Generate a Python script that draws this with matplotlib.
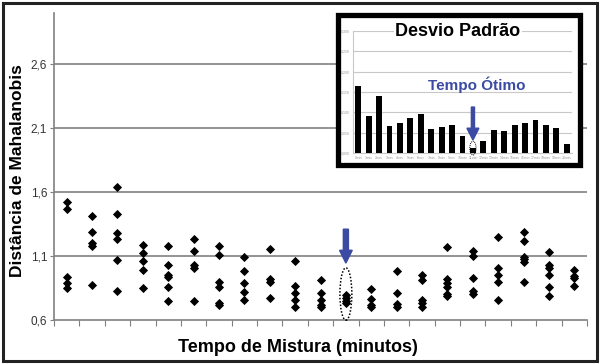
import numpy as np
import matplotlib
matplotlib.use('Agg')
import matplotlib.pyplot as plt
from matplotlib.patches import Ellipse, Rectangle, FancyArrow

plt.rcParams['font.family'] = ['Liberation Sans', 'DejaVu Sans']

# distancia de Mahalanobis de cada replica, por tempo de mistura
tempos = [f'{i}min' for i in range(21)]
distancias = [
    [1.52, 1.47, 0.94, 0.89, 0.85],
    [1.41, 1.29, 1.20, 1.18, 0.87],
    [1.64, 1.43, 1.28, 1.235, 1.07, 0.83],
    [1.19, 1.12, 1.06, 0.99, 0.85],
    [1.18, 1.03, 0.955, 0.94, 0.855, 0.75],
    [1.23, 1.14, 1.03, 1.01, 0.745],
    [1.175, 1.11, 0.90, 0.86, 0.73, 0.72],
    [1.09, 0.985, 0.89, 0.82, 0.755],
    [1.155, 0.92, 0.90, 0.775],
    [1.06, 0.865, 0.81, 0.755, 0.70],
    [0.91, 0.81, 0.76, 0.72, 0.70],
    [0.795, 0.775, 0.75, 0.73],
    [0.845, 0.765, 0.72, 0.70],
    [0.98, 0.81, 0.725, 0.70],
    [0.95, 0.915, 0.76, 0.735, 0.705],
    [1.17, 0.92, 0.89, 0.86, 0.805, 0.79],
    [1.14, 1.10, 0.93, 0.83, 0.805],
    [1.245, 1.01, 0.95, 0.895, 0.755],
    [1.29, 1.22, 1.095, 1.08, 1.05, 0.895],
    [1.13, 1.03, 1.01, 0.95, 0.86, 0.79],
    [0.99, 0.945, 0.925, 0.865],
]
yticks = [0.6, 1.1, 1.6, 2.1, 2.6]
ytick_labels = ['0,6', '1,1', '1,6', '2,1', '2,6']

# desvio padrao (grafico pequeno)
desvio = [0.164, 0.090, 0.139, 0.066, 0.074, 0.085, 0.095, 0.060, 0.063, 0.070,
          0.042, 0.012, 0.029, 0.057, 0.054, 0.068, 0.073, 0.081, 0.070, 0.062, 0.023]
inset_yticks = [0.0, 0.05, 0.10, 0.15, 0.20, 0.25, 0.30]
inset_ylabels = ['0,000', '0,050', '0,100', '0,150', '0,200', '0,250', '0,300']
otimo = 11

azul = '#3b4aa3'
cinza = '#808080'

fig = plt.figure(figsize=(6, 3.64), dpi=100)
W, H = 600, 364

ax = fig.add_axes([54/W, 1 - 320/H, (587-54)/W, (320-13)/H])
for i, vals in enumerate(distancias):
    ax.plot([i]*len(vals), vals, 'kD', ms=3.8, mew=0.6, zorder=3)

ax.set_xlim(-0.5, 20.5)
ax.set_ylim(0.6, 3.0)
ax.set_yticks(yticks)
ax.set_yticklabels(ytick_labels, fontsize=8.5, color='#333333')
ax.set_xticks(np.arange(-0.5, 21, 1))
ax.set_xticklabels([])
ax.tick_params(axis='x', length=4, color=cinza, direction='out')
ax.tick_params(axis='y', length=3, color=cinza, pad=2)
for s in ['top', 'right']:
    ax.spines[s].set_visible(False)
for s in ['left', 'bottom']:
    ax.spines[s].set_color(cinza)
    ax.spines[s].set_linewidth(1.2)
for y in yticks[1:]:
    ax.axhline(y, color=cinza, lw=1.2, zorder=1)

ax.add_patch(FancyArrow(otimo, 1.31, 0, -0.265, width=0.2, head_width=0.5,
                        head_length=0.1, length_includes_head=True,
                        color=azul, zorder=4))
ax.add_patch(Ellipse((otimo, 0.803), 0.47, 0.41, fill=False, ls=(0, (1, 1.2)),
                     lw=1.1, ec='k', zorder=4, clip_on=False))

fig.text(18/W, 1 - 171/H, 'Distância de Mahalanobis', rotation=90,
         ha='center', va='center', fontsize=12.5, fontweight='bold')
fig.text(298/W, 1 - 347/H, 'Tempo de Mistura (minutos)', ha='center',
         va='center', fontsize=13, fontweight='bold')

# quadro do grafico pequeno
fig.patches.append(Rectangle((337.5/W, 1 - 165/H), 242/W, 150/H, fc='white',
                             ec='black', lw=3.8, transform=fig.transFigure,
                             zorder=1))
ins = fig.add_axes([353/W, 1 - 153/H, (572-353)/W, (153-31)/H])
ins.set_zorder(2)
ins.set_facecolor('none')
ins.bar(range(len(desvio)), desvio, width=0.55, color='black', zorder=3)
ins.set_xlim(-0.5, 20.5)
ins.set_ylim(0, 0.30)
ins.set_yticks(inset_yticks)
ins.set_yticklabels(inset_ylabels, fontsize=2.5, color='#999999')
ins.set_xticks(range(len(tempos)))
ins.set_xticklabels(tempos, fontsize=2.5, color='#999999')
ins.tick_params(length=0, pad=2)
ins.grid(axis='y', color='#c8c8c8', lw=0.8, zorder=0)
for s in ['top', 'right']:
    ins.spines[s].set_visible(False)
ins.spines['left'].set_color('#c8c8c8')
ins.spines['bottom'].set_color('#c8c8c8')
ins.add_patch(FancyArrow(otimo, 0.113, 0, -0.081, width=0.3, head_width=1.15,
                         head_length=0.029, length_includes_head=True,
                         color=azul, zorder=4))
ins.add_patch(Ellipse((otimo, 0.012), 0.6, 0.034, fill=False, lw=0.7,
                      ec='k', ls=(0, (1, 1)), zorder=5, clip_on=False))

fig.text(458/W, 1 - 32/H, 'Desvio Padrão', ha='center', va='center',
         fontsize=13, fontweight='bold', zorder=5,
         bbox=dict(fc='white', ec='none', pad=1))
fig.text(477/W, 1 - 85/H, 'Tempo Ótimo', ha='center', va='center',
         fontsize=11, fontweight='bold', color=azul, zorder=5)

# moldura externa
fig.patches.append(Rectangle((3/W, 3/H), 594/W, 358/H, fill=False, ec='#222222',
                             lw=2.2, transform=fig.transFigure, zorder=6))

fig.savefig('out.png', dpi=100)
